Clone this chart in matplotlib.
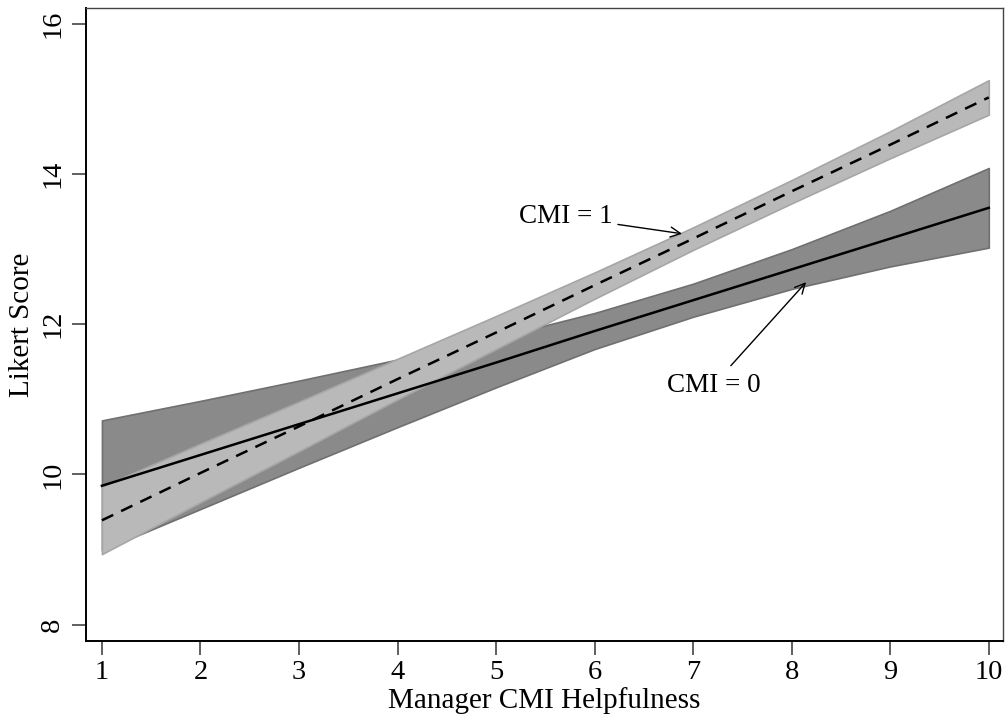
import numpy as np
import matplotlib
matplotlib.use("Agg")
import matplotlib.pyplot as plt

plt.rcParams['font.family'] = ['Liberation Serif', 'DejaVu Serif']

# data (margins at each helpfulness level)
helpfulness = [1, 2, 3, 4, 5, 6, 7, 8, 9, 10]

cmi0_fit = [9.85, 10.26, 10.67, 11.08, 11.49, 11.91, 12.32, 12.73, 13.14, 13.55]
cmi0_lo = [8.99, 9.54, 10.09, 10.63, 11.16, 11.67, 12.10, 12.47, 12.77, 13.02]
cmi0_hi = [10.72, 10.98, 11.25, 11.53, 11.82, 12.15, 12.54, 13.00, 13.51, 14.08]

cmi1_fit = [9.39, 10.02, 10.64, 11.27, 11.89, 12.52, 13.14, 13.77, 14.39, 15.02]
cmi1_lo = [8.94, 9.63, 10.31, 11.00, 11.67, 12.34, 12.99, 13.61, 14.21, 14.79]
cmi1_hi = [9.84, 10.41, 10.97, 11.54, 12.11, 12.69, 13.29, 13.92, 14.57, 15.25]

x_ticks = [1, 2, 3, 4, 5, 6, 7, 8, 9, 10]
y_ticks = [8, 10, 12, 14, 16]

fig = plt.figure(figsize=(10.08, 7.17), dpi=100)
ax = fig.add_axes([0.0853, 0.1064, 0.9097, 0.8824])

# confidence bands
ax.fill_between(helpfulness, cmi0_lo, cmi0_hi, facecolor='#8a8a8a',
                edgecolor='#707070', linewidth=1.2, zorder=1)
ax.fill_between(helpfulness, cmi1_lo, cmi1_hi, facecolor='#b9b9b9',
                edgecolor='#a6a6a6', linewidth=1.2, zorder=2)

# fitted lines
ax.plot(helpfulness, cmi0_fit, color='black', lw=1.8, zorder=3)
ax.plot(helpfulness, cmi1_fit, color='black', lw=1.8, ls=(0, (5, 3.5)), zorder=3)

# labels with arrows
ax.annotate('CMI = 1', xy=(6.887, 13.205), xytext=(6.18, 13.43),
            ha='right', va='center', fontsize=19.5,
            arrowprops=dict(arrowstyle='->', color='black', lw=1,
                            shrinkA=2, shrinkB=0, mutation_scale=18))
ax.annotate('CMI = 0', xy=(8.146, 12.56), xytext=(7.68, 11.19),
            ha='right', va='center', fontsize=19.5,
            arrowprops=dict(arrowstyle='->', color='black', lw=1,
                            shrinkA=4, shrinkB=0, mutation_scale=18))

ax.set_xlim(0.838, 10.144)
ax.set_ylim(7.787, 16.21)
ax.set_xticks(x_ticks)
ax.set_yticks(y_ticks)
ax.tick_params(axis='both', direction='out', length=10, width=1.2,
               color='#444444', labelsize=20.5)
ax.tick_params(axis='x', pad=4)
ax.tick_params(axis='y', pad=5)
for lab in ax.get_yticklabels():
    lab.set_rotation(90)
    lab.set_va('center')

ax.set_xlabel('Manager CMI Helpfulness', fontsize=21, labelpad=1)
ax.set_ylabel('Likert Score', fontsize=21, labelpad=4)

for side in ['left', 'bottom']:
    ax.spines[side].set_linewidth(1.4)
    ax.spines[side].set_color('black')
for side in ['top', 'right']:
    ax.spines[side].set_linewidth(1.0)
    ax.spines[side].set_color('#444444')

fig.savefig('out.png', dpi=100)
